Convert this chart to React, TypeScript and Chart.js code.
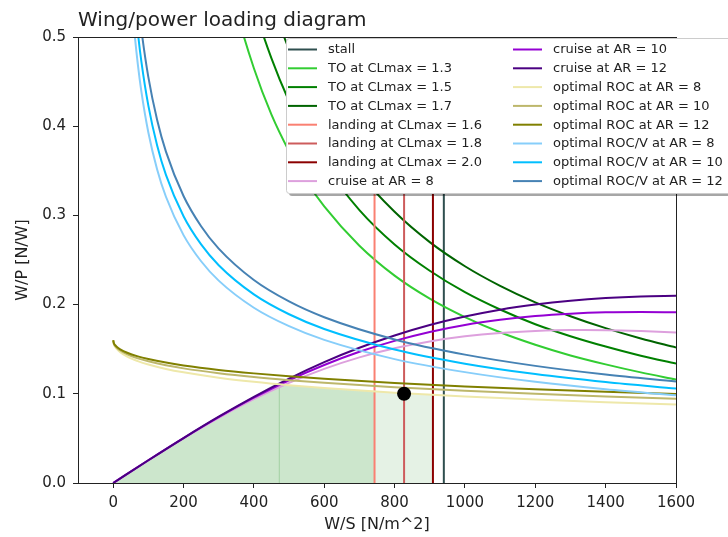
import React, { useEffect, useRef } from "react";
import { Chart, registerables } from "chart.js";

Chart.register(...registerables);

const FONT = "'DejaVu Sans', 'Liberation Sans', sans-serif";
const TEXT = "#222222";

const chartTitle = "Wing/power loading diagram";
const xLabel = "W/S [N/m^2]";
const yLabel = "W/P [N/W]";
const xTicks = [0, 200, 400, 600, 800, 1000, 1200, 1400, 1600];
const yTicks = [0, 0.1, 0.2, 0.3, 0.4, 0.5];
const xRange = [-100, 1600];
const yRange = [0, 0.5];

// vertical constraints (W/S)
const stallWS = 940;
const landingWS = [743, 827, 909];

// take-off
const toX = [300, 350, 400, 450, 500, 550, 600, 700, 800, 900, 1000, 1100, 1200, 1300, 1400, 1500, 1600];
const toCL13 = [0.62, 0.531, 0.465, 0.413, 0.372, 0.338, 0.31, 0.266, 0.2325, 0.2067, 0.186, 0.169, 0.155, 0.143, 0.133, 0.124, 0.116];
const toCL15 = [0.713, 0.611, 0.535, 0.476, 0.428, 0.389, 0.357, 0.306, 0.2675, 0.238, 0.214, 0.1945, 0.178, 0.1646, 0.153, 0.1427, 0.134];
const toCL17 = [0.81, 0.694, 0.608, 0.54, 0.486, 0.442, 0.405, 0.347, 0.304, 0.27, 0.243, 0.221, 0.2025, 0.187, 0.1736, 0.162, 0.152];

// cruise
const crX = [0, 100, 200, 300, 400, 500, 600, 700, 800, 900, 1000, 1100, 1200, 1300, 1400, 1500, 1600];
const crAR8 = [0, 0.0254, 0.0501, 0.0731, 0.094, 0.1123, 0.1279, 0.1408, 0.151, 0.1587, 0.1644, 0.1682, 0.1704, 0.1714, 0.1713, 0.1704, 0.1688];
const crAR10 = [0, 0.0255, 0.0503, 0.0738, 0.0956, 0.1152, 0.1323, 0.1471, 0.1593, 0.1693, 0.1771, 0.1829, 0.1871, 0.1898, 0.1913, 0.1917, 0.1913];
const crAR12 = [0, 0.0255, 0.0504, 0.0743, 0.0966, 0.1171, 0.1355, 0.1516, 0.1654, 0.1771, 0.1866, 0.1943, 0.2001, 0.2044, 0.2074, 0.2092, 0.2099];

// optimal rate of climb
const rocX = [0, 2, 5, 10, 20, 40, 70, 100, 150, 200, 300, 400, 500, 600, 800, 1000, 1200, 1400, 1600];
const rocAR8 = [0.16, 0.1555, 0.153, 0.1503, 0.1466, 0.1416, 0.1366, 0.1328, 0.1279, 0.1241, 0.1181, 0.1135, 0.1097, 0.1065, 0.1013, 0.0971, 0.0936, 0.0906, 0.0879];
const rocAR10 = [0.16, 0.1562, 0.154, 0.1517, 0.1485, 0.1442, 0.1397, 0.1364, 0.132, 0.1285, 0.1231, 0.1188, 0.1153, 0.1123, 0.1074, 0.1034, 0.1, 0.0971, 0.0945];
const rocAR12 = [0.16, 0.1567, 0.1548, 0.1527, 0.1499, 0.146, 0.142, 0.139, 0.135, 0.1318, 0.1268, 0.1229, 0.1196, 0.1168, 0.1121, 0.1082, 0.105, 0.1022, 0.0997];

// optimal ROC/V (climb gradient)
const rocvX = [30, 40, 50, 60, 70, 80, 100, 125, 150, 200, 250, 300, 400, 500, 600, 800, 1000, 1200, 1400, 1600];
const rocvAR8 = [0.7175, 0.6214, 0.5558, 0.5074, 0.4697, 0.4394, 0.393, 0.3515, 0.3209, 0.2779, 0.2486, 0.2269, 0.1965, 0.1758, 0.1604, 0.1389, 0.1243, 0.1134, 0.105, 0.0983];
const rocvAR10 = [0.7723, 0.6688, 0.5982, 0.5461, 0.5056, 0.4729, 0.423, 0.3784, 0.3454, 0.2991, 0.2675, 0.2442, 0.2115, 0.1892, 0.1727, 0.1496, 0.1338, 0.1221, 0.1131, 0.1058];
const rocvAR12 = [0.8307, 0.7194, 0.6435, 0.5874, 0.5438, 0.5087, 0.455, 0.407, 0.3715, 0.3217, 0.2878, 0.2627, 0.2275, 0.2035, 0.1858, 0.1609, 0.1439, 0.1313, 0.1216, 0.1138];

// feasible region (filled)
const fillAX = [0, 100, 200, 300, 400, 470, 474];
const fillAY = [0, 0.0255, 0.0504, 0.0743, 0.0966, 0.1108, 0.1107];
const fillBX = [470, 500, 600, 700, 743];
const fillBY = [0.1108, 0.1097, 0.1065, 0.1038, 0.1026];
const fillCX = [743, 800, 909];
const fillCY = [0.1026, 0.1013, 0.0989];

// design point
const designX = [827];
const designY = [0.1];

const pts = (xs: number[], ys: number[]) => xs.map((x, i) => ({ x, y: ys[i] }));
const vline = (x: number) => [{ x, y: yRange[0] }, { x, y: yRange[1] }];

type Series = { label: string; color: string; data: { x: number; y: number }[]; smooth: boolean };

const series: Series[] = [
  { label: "stall", color: "#2F4F4F", data: vline(stallWS), smooth: false },
  { label: "TO at CLmax = 1.3", color: "#32CD32", data: pts(toX, toCL13), smooth: true },
  { label: "TO at CLmax = 1.5", color: "#008000", data: pts(toX, toCL15), smooth: true },
  { label: "TO at CLmax = 1.7", color: "#006400", data: pts(toX, toCL17), smooth: true },
  { label: "landing at CLmax = 1.6", color: "#FA8072", data: vline(landingWS[0]), smooth: false },
  { label: "landing at CLmax = 1.8", color: "#CD5C5C", data: vline(landingWS[1]), smooth: false },
  { label: "landing at CLmax = 2.0", color: "#8B0000", data: vline(landingWS[2]), smooth: false },
  { label: "cruise at AR = 8", color: "#DDA0DD", data: pts(crX, crAR8), smooth: true },
  { label: "cruise at AR = 10", color: "#9400D3", data: pts(crX, crAR10), smooth: true },
  { label: "cruise at AR = 12", color: "#4B0082", data: pts(crX, crAR12), smooth: true },
  { label: "optimal ROC at AR = 8", color: "#EEE8AA", data: pts(rocX, rocAR8), smooth: true },
  { label: "optimal ROC at AR = 10", color: "#BDB76B", data: pts(rocX, rocAR10), smooth: true },
  { label: "optimal ROC at AR = 12", color: "#808000", data: pts(rocX, rocAR12), smooth: true },
  { label: "optimal ROC/V at AR = 8", color: "#87CEFA", data: pts(rocvX, rocvAR8), smooth: true },
  { label: "optimal ROC/V at AR = 10", color: "#00BFFF", data: pts(rocvX, rocvAR10), smooth: true },
  { label: "optimal ROC/V at AR = 12", color: "#4682B4", data: pts(rocvX, rocvAR12), smooth: true },
];

const fills = [
  { data: pts(fillAX, fillAY), color: "rgba(0,128,0,0.2)" },
  { data: pts(fillBX, fillBY), color: "rgba(0,128,0,0.2)" },
  { data: pts(fillCX, fillCY), color: "rgba(0,128,0,0.1)" },
];

const framePlugin = {
  id: "frame",
  afterDatasetsDraw(chart: any) {
    const { ctx, chartArea: a } = chart;
    ctx.save();
    ctx.strokeStyle = TEXT;
    ctx.lineWidth = 1;
    ctx.strokeRect(Math.round(a.left) + 0.5, Math.round(a.top) + 0.5, Math.round(a.right - a.left), Math.round(a.bottom - a.top));
    ctx.restore();
  },
};

const legendPlugin = {
  id: "mplLegend",
  afterDraw(chart: any) {
    const { ctx, chartArea: a } = chart;
    ctx.save();
    // title
    ctx.fillStyle = TEXT;
    ctx.font = `20px ${FONT}`;
    ctx.textAlign = "left";
    ctx.textBaseline = "alphabetic";
    ctx.fillText(chartTitle, a.left, 26);

    const bx = 286, by = 38, bw = 470, bh = 155;
    ctx.fillStyle = "rgba(0,0,0,0.35)";
    ctx.beginPath();
    (ctx as any).roundRect(bx + 3, by + 3, bw, bh, 3);
    ctx.fill();
    ctx.fillStyle = "#ffffff";
    ctx.strokeStyle = "#cccccc";
    ctx.lineWidth = 1;
    ctx.beginPath();
    (ctx as any).roundRect(bx + 0.5, by + 0.5, bw, bh, 3);
    ctx.fill();
    ctx.stroke();

    ctx.font = `13px ${FONT}`;
    ctx.textBaseline = "middle";
    const colX = [288, 513];
    const rowY0 = 49.5, rowH = 18.8;
    series.forEach((s, i) => {
      const c = Math.floor(i / 8), r = i % 8;
      const y = rowY0 + r * rowH;
      const x0 = colX[c];
      ctx.strokeStyle = s.color;
      ctx.lineWidth = 2;
      ctx.beginPath();
      ctx.moveTo(x0, y);
      ctx.lineTo(x0 + 29, y);
      ctx.stroke();
      ctx.fillStyle = TEXT;
      ctx.fillText(s.label, x0 + 40, y + 0.5);
    });
    ctx.restore();
  },
};

export default function App() {
  const ref = useRef<HTMLCanvasElement>(null);
  useEffect(() => {
    const canvas = ref.current;
    if (!canvas) return;
    const datasets: any[] = [];
    fills.forEach((f) => {
      datasets.push({
        data: f.data,
        borderWidth: 0,
        borderColor: "rgba(0,0,0,0)",
        backgroundColor: f.color,
        fill: "origin",
        pointRadius: 0,
        cubicInterpolationMode: "monotone",
        order: 200,
      });
    });
    series.forEach((s, i) => {
      datasets.push({
        label: s.label,
        data: s.data,
        borderColor: s.color,
        backgroundColor: s.color,
        borderWidth: 2,
        pointRadius: 0,
        fill: false,
        tension: 0,
        cubicInterpolationMode: s.smooth ? "monotone" : "default",
        order: 100 - i,
      });
    });
    datasets.push({
      label: "design point",
      data: pts(designX, designY),
      showLine: false,
      pointRadius: 7,
      pointBackgroundColor: "#000",
      pointBorderColor: "#000",
      pointBorderWidth: 0,
      order: 0,
    });

    const tickFont = { family: FONT, size: 15 };
    const chart = new Chart(canvas, {
      type: "line",
      data: { datasets },
      options: {
        responsive: false,
        devicePixelRatio: 1,
        animation: false,
        events: [],
        layout: { padding: { top: 37, right: 52, left: 0, bottom: 0 } },
        plugins: {
          legend: { display: false },
          tooltip: { enabled: false },
          title: { display: false },
        },
        scales: {
          x: {
            type: "linear",
            min: xRange[0],
            max: xRange[1],
            afterBuildTicks: (s: any) => {
              s.ticks = xTicks.map((v) => ({ value: v }));
            },
            afterFit: (s: any) => {
              s.height = 54;
            },
            ticks: {
              font: tickFont,
              color: TEXT,
              padding: 6,
              maxRotation: 0,
              autoSkip: false,
              callback: (v: any) => String(v),
            },
            grid: { display: true, drawOnChartArea: false, drawTicks: true, tickLength: 5, color: TEXT },
            border: { display: false },
            title: { display: true, text: xLabel, font: { family: FONT, size: 16 }, color: TEXT, padding: { top: 0, bottom: 3 } },
          },
          y: {
            type: "linear",
            min: yRange[0],
            max: yRange[1],
            afterBuildTicks: (s: any) => {
              s.ticks = yTicks.map((v) => ({ value: v }));
            },
            afterFit: (s: any) => {
              s.width = 78;
            },
            ticks: {
              font: tickFont,
              color: TEXT,
              padding: 7,
              autoSkip: false,
              callback: (v: any) => Number(v).toFixed(1),
            },
            grid: { display: true, drawOnChartArea: false, drawTicks: true, tickLength: 5, color: TEXT },
            border: { display: false },
            title: { display: true, text: yLabel, font: { family: FONT, size: 16 }, color: TEXT, padding: { top: 13, bottom: 0 } },
          },
        },
      } as any,
      plugins: [framePlugin, legendPlugin],
    });
    return () => chart.destroy();
  }, []);
  return (
    <div style={{ position: "absolute", left: 0, top: 0, width: 728, height: 537, background: "#ffffff" }}>
      <canvas ref={ref} width={728} height={537} style={{ display: "block", width: 728, height: 537 }} />
    </div>
  );
}
